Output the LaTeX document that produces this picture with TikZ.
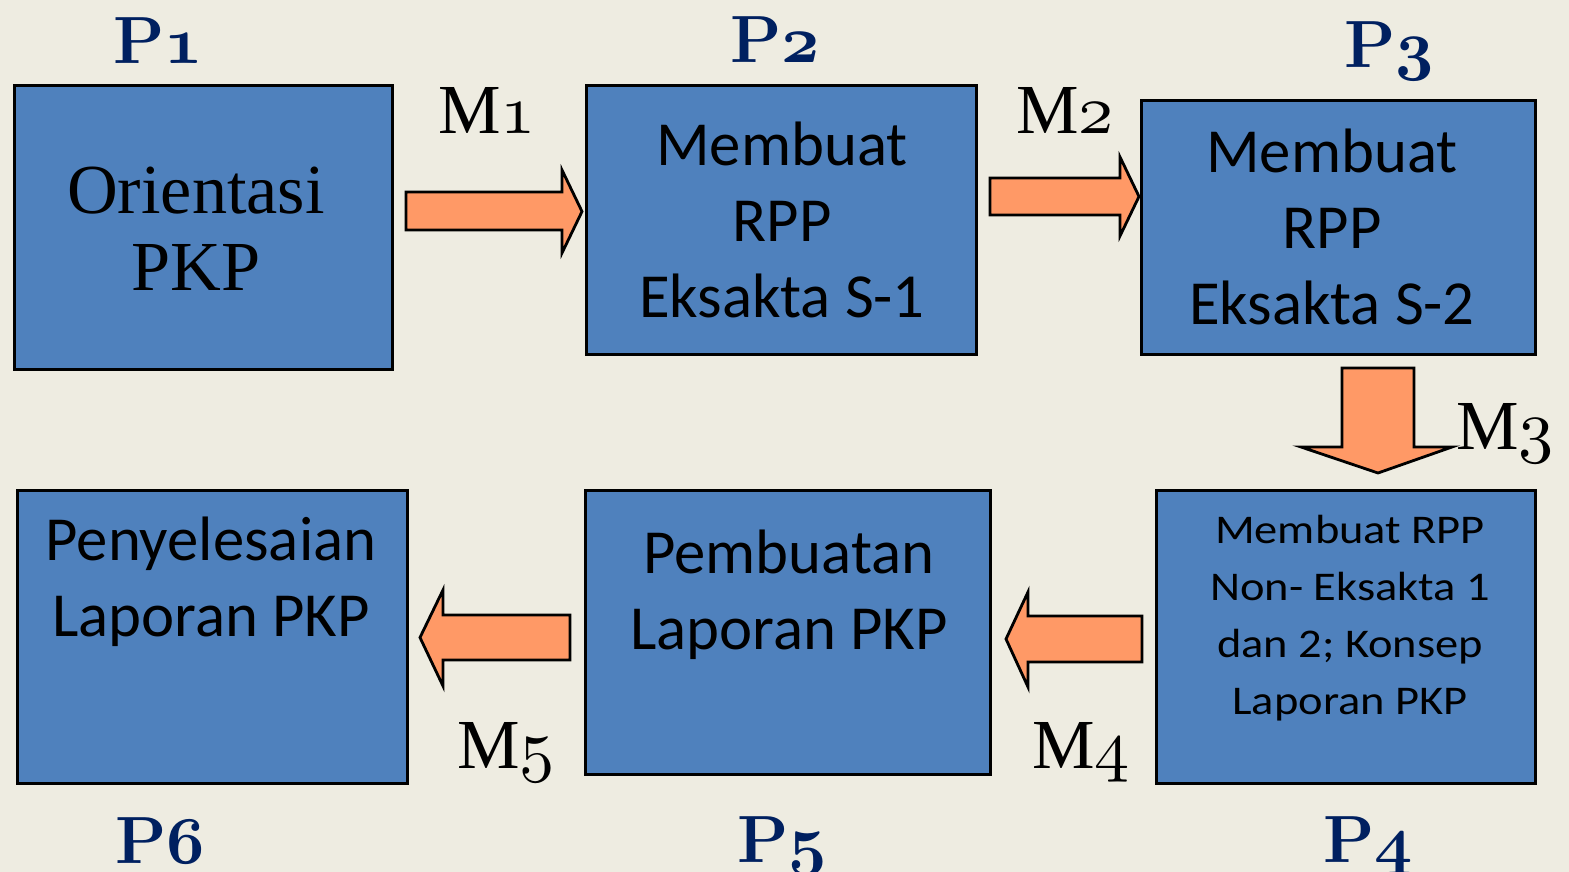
\documentclass[tikz,border=0pt]{standalone}
\usepackage{fontspec}
\newfontfamily\calibri{Carlito}
\newfontfamily\calibriwide{Carlito}[FakeStretch=1.14]
\newfontfamily\georgia{Liberation Serif}
\definecolor{slidebg}{HTML}{EEECE1}
\definecolor{boxblue}{HTML}{4F81BD}
\definecolor{arroworange}{HTML}{FF9966}
\definecolor{labelnavy}{HTML}{002060}
% old style digits from the math italic font, at any size
\DeclareFontFamily{OML}{osn}{\skewchar\font'177}
\DeclareFontShape{OML}{osn}{m}{it}{<->cmmi10}{}
\DeclareFontShape{OML}{osn}{b}{it}{<->cmmib10}{}
\newcommand\osnum[2]{{\usefont{OML}{osn}{#1}{it}#2}}

\begin{document}
\begin{tikzpicture}[x=0.02cm,y=-0.02cm,
  procbox/.style={draw=black, fill=boxblue, line width=1.6pt, inner sep=0pt, anchor=north west},
  boxtext/.style={align=center, anchor=base, inner sep=0pt},
  calfont/.style={font=\calibri\fontsize{35.7}{43.1}\selectfont},
  steplabel/.style={text=labelnavy, anchor=base, inner sep=0pt, font=\fontsize{38}{40}\selectfont\bfseries},
  movelabel/.style={anchor=base, inner sep=0pt, font=\georgia\fontsize{40}{42}\selectfont},
  blockarrow/.style={draw=black, fill=arroworange, line width=1.6pt, line join=miter}]
\fill[slidebg] (0,0) rectangle (1569,872);
\useasboundingbox (0,0) rectangle (1569,872);

% boxes
\node[procbox, minimum width=7.56cm, minimum height=5.68cm] (p1) at (13,84) {};
\node[procbox, minimum width=7.80cm, minimum height=5.38cm] (p2) at (585,84) {};
\node[procbox, minimum width=7.88cm, minimum height=5.08cm] (p3) at (1140,99) {};
\node[procbox, minimum width=7.58cm, minimum height=5.86cm] (p4) at (1155,489) {};
\node[procbox, minimum width=8.10cm, minimum height=5.68cm] (p5) at (584,489) {};
\node[procbox, minimum width=7.80cm, minimum height=5.86cm] (p6) at (16,489) {};

% box texts
\node[boxtext, font=\georgia\fontsize{40}{43.7}\selectfont] (p1text) at (196,290) {Orientasi\\PKP};
\node[boxtext, calfont] (p2text) at (782,317) {Membuat\\RPP\\Eksakta S-1};
\node[boxtext, calfont] (p3text) at (1332,324) {Membuat\\RPP\\Eksakta S-2};
\node[boxtext, font=\calibriwide\fontsize{23.2}{32.3}\selectfont] (p4text) at (1350,714)
  {Membuat RPP\\Non- Eksakta 1\\dan 2; Konsep\\Laporan PKP};
\node[boxtext, calfont] (p5text) at (789,649) {Pembuatan\\Laporan PKP};
\node[boxtext, calfont] (p6text) at (211,636) {Penyelesaian\\Laporan PKP};

% step labels
\node[steplabel] (p1lab) at (158,63) {P\osnum{b}{1}};
\node[steplabel] (p2lab) at (775,62) {P\osnum{b}{2}};
\node[steplabel] (p3lab) at (1389,67) {P\osnum{b}{3}};
\node[steplabel] (p4lab) at (1368,862) {P\osnum{b}{4}};
\node[steplabel] (p5lab) at (782,862) {P\osnum{b}{5}};
\node[steplabel] (p6lab) at (160,863) {P\osnum{b}{6}};

% move labels
\node[movelabel] (m1lab) at (487,133) {M\osnum{m}{1}};
\node[movelabel] (m2lab) at (1065,133) {M\osnum{m}{2}};
\node[movelabel] (m3lab) at (1505,449) {M\osnum{m}{3}};
\node[movelabel] (m4lab) at (1081,768) {M\osnum{m}{4}};
\node[movelabel] (m5lab) at (506,768) {M\osnum{m}{5}};

% block arrows
\draw[blockarrow] (406,192) -- (562,192) -- (562,170) -- (582,211.5) -- (562,253) -- (562,230) -- (406,230) -- cycle;
\draw[blockarrow] (990,178) -- (1120,178) -- (1120,157) -- (1139,196.5) -- (1120,236) -- (1120,215) -- (990,215) -- cycle;
\draw[blockarrow] (1342,368) -- (1414,368) -- (1414,447) -- (1452,447) -- (1378,473) -- (1301,447) -- (1342,447) -- cycle;
\draw[blockarrow] (1142,616) -- (1028,616) -- (1028,592) -- (1006,639) -- (1028,687) -- (1028,662) -- (1142,662) -- cycle;
\draw[blockarrow] (570,615) -- (443,615) -- (443,590) -- (420,637.5) -- (443,686) -- (443,660) -- (570,660) -- cycle;
\end{tikzpicture}
\end{document}
